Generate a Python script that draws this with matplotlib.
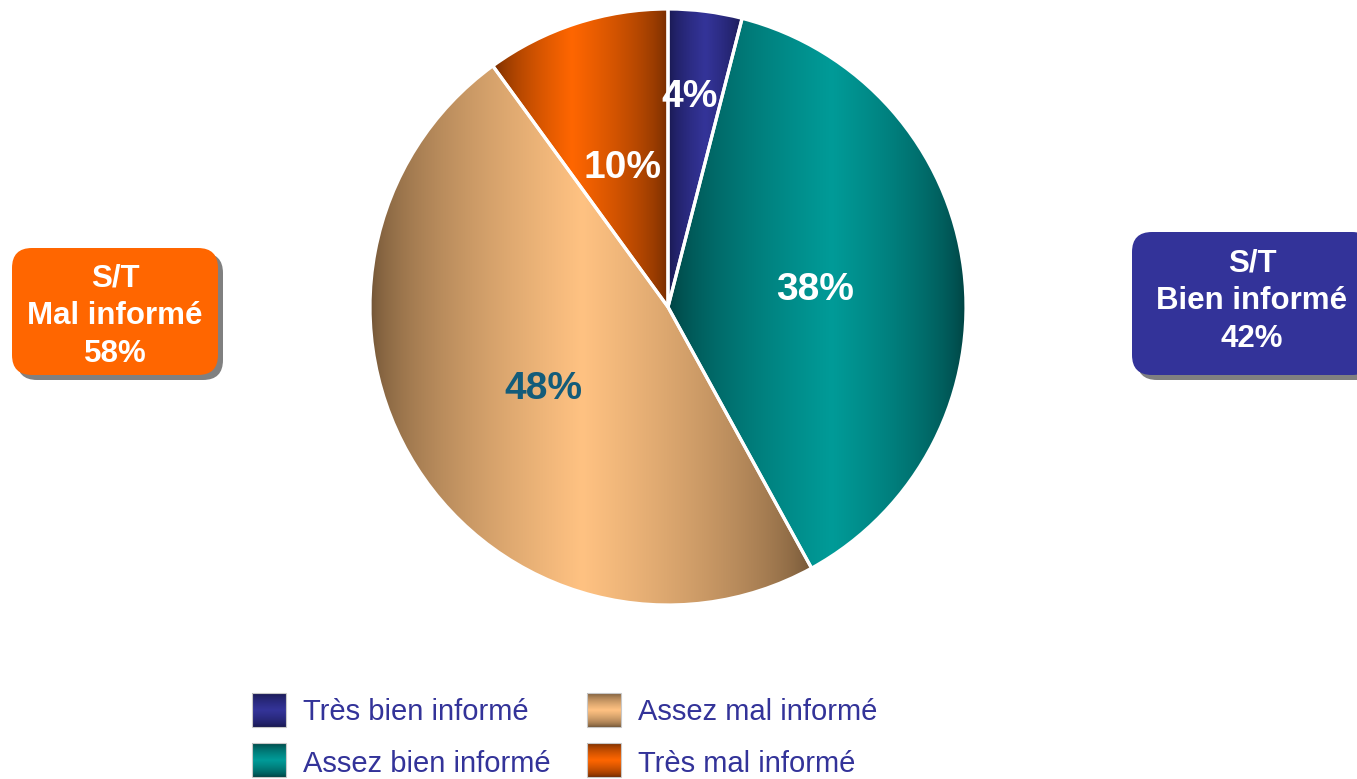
import numpy as np
import matplotlib
matplotlib.use("Agg")
import matplotlib.pyplot as plt
from matplotlib.patches import FancyBboxPatch, Rectangle
from matplotlib.colors import to_rgb

plt.rcParams['font.family'] = ['Liberation Sans', 'DejaVu Sans']

# ---- data ----
categories = ["Très bien informé", "Assez bien informé", "Assez mal informé", "Très mal informé"]
values = [4, 38, 48, 10]
value_labels = ["4%", "38%", "48%", "10%"]
light_colors = ["#343499", "#009B98", "#FFC282", "#FF6600"]
dark_colors = ["#16164A", "#003E3E", "#6E5234", "#6A2800"]
peaks = [0.5, 0.55, 0.48, 0.45]
label_colors = ["white", "white", "#135C7A", "white"]
summary_labels = ["S/T\nMal informé\n58%", "S/T\nBien informé\n42%"]
summary_colors = ["#FF6600", "#333399"]

W, H = 1357, 779
fig = plt.figure(figsize=(W / 100, H / 100), dpi=100)
ax = fig.add_axes([0, 0, 1, 1])
ax.set_xlim(0, W)
ax.set_ylim(0, H)
ax.set_aspect('equal')
ax.axis('off')

center = (668, H - 307)
radius = 298

wedges, _ = ax.pie(values, center=center, radius=radius, startangle=90,
                   counterclock=False, frame=True,
                   wedgeprops=dict(edgecolor='white', linewidth=2.3, facecolor='none'))
ax.set_xlim(0, W)
ax.set_ylim(0, H)
ax.axis('off')


def gradient_rgb(light, dark, n, peak):
    t = np.linspace(0, 1, n)
    f = np.where(t < peak, t / peak, (1 - t) / (1 - peak))
    f = np.clip(f, 0, 1) ** 0.6
    l = np.array(to_rgb(light))
    d = np.array(to_rgb(dark))
    return d[None, :] + (l - d)[None, :] * f[:, None]


for w, lc, dc, pk in zip(wedges, light_colors, dark_colors, peaks):
    th = np.radians(np.linspace(w.theta1, w.theta2, 200))
    xs = np.concatenate([[w.center[0]], w.center[0] + w.r * np.cos(th)])
    ys = np.concatenate([[w.center[1]], w.center[1] + w.r * np.sin(th)])
    x0, x1 = xs.min(), xs.max()
    y0, y1 = ys.min(), ys.max()
    cols = gradient_rgb(lc, dc, 256, pk)
    img = np.tile(cols[None, :, :], (2, 1, 1))
    im = ax.imshow(img, extent=[x0, x1, y0, y1], aspect='auto', zorder=1,
                   interpolation='bilinear')
    im.set_clip_path(w)
    w.set_zorder(2)

ax.set_xlim(0, W)
ax.set_ylim(0, H)

# value labels
label_pos = [(690, 97), (815, 290), (543, 389), (622, 168)]
for (px, py), txt, col in zip(label_pos, value_labels, label_colors):
    ax.text(px, H - py, txt, color=col, fontsize=28, fontweight='bold',
            ha='center', va='center', zorder=5)

# summary boxes
boxes = [(12, 248, 206, 127, 115, 316), (1132, 232, 240, 143, 1252, 301)]
for (bx, by, bw, bh, tx, ty), txt, col in zip(boxes, summary_labels, summary_colors):
    sh = FancyBboxPatch((bx + 5, H - by - bh - 5), bw, bh,
                        boxstyle="round,pad=0,rounding_size=20",
                        facecolor='#808080', edgecolor='none', zorder=3)
    ax.add_patch(sh)
    bp = FancyBboxPatch((bx, H - by - bh), bw, bh,
                        boxstyle="round,pad=0,rounding_size=20",
                        facecolor=col, edgecolor='none', zorder=4)
    ax.add_patch(bp)
    ax.text(tx, H - ty, txt, color='white', fontsize=22.5, fontweight='bold',
            ha='center', va='center', linespacing=1.34, zorder=5)

# legend
leg_pos = [(252, 693, 712), (252, 743, 764), (587, 693, 712), (587, 743, 764)]
for (lx, ly, ty), name, lc, dc in zip(leg_pos, categories, light_colors, dark_colors):
    cols = gradient_rgb(lc, dc, 64, 0.5)
    img = cols[:, None, :]
    ax.imshow(img, extent=[lx, lx + 34, H - ly - 34, H - ly], aspect='auto',
              zorder=4, interpolation='bilinear')
    ax.add_patch(Rectangle((lx, H - ly - 34), 34, 34, facecolor='none',
                           edgecolor='#C8C8C8', linewidth=0.8, zorder=5))
    ax.text(lx + 51, H - ty, name, color='#333399', fontsize=21,
            ha='left', va='center', zorder=5)

ax.set_xlim(0, W)
ax.set_ylim(0, H)
fig.savefig("out.png", dpi=100)
